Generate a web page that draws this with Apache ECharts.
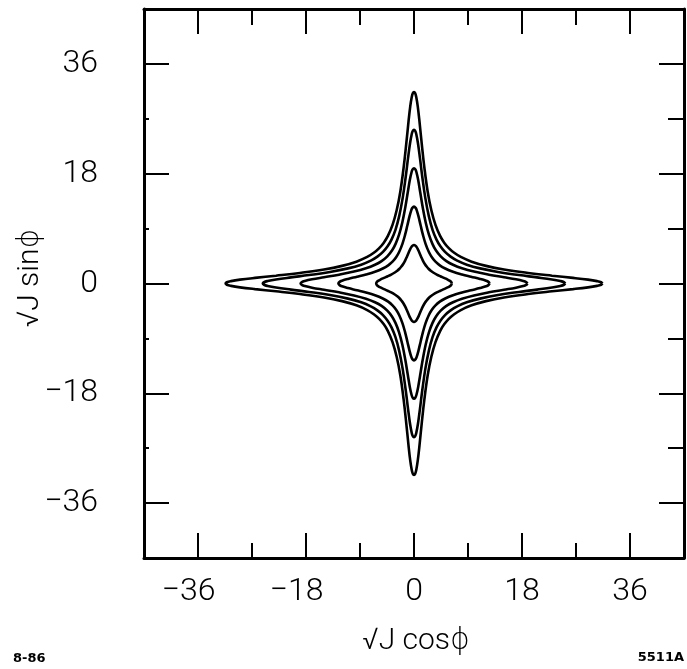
<!DOCTYPE html>
<html>
<head>
<meta charset="utf-8">
<script src="https://cdn.jsdelivr.net/npm/echarts@6/dist/echarts.min.js"></script>
<style>html,body{margin:0;padding:0;background:#fff;}#c{width:687px;height:669px;}</style>
</head>
<body>
<div id="c"></div>
<script>
// Tick values
const majorTicks = [-36, -18, 0, 18, 36];
const axisMin = -45, axisMax = 45, minorStep = 9;

// Contour curves (sqrt(J)cos(phi), sqrt(J)sin(phi))
const curve1 = [[6.3,0],[6.2,0.25],[6,0.42],[5.6,0.65],[5,0.92],[4.4,1.18],[3.8,1.46],[3.2,1.8],[2.8,2.09],[2.42,2.42],[2.09,2.8],[1.8,3.2],[1.46,3.8],[1.18,4.4],[0.92,5],[0.65,5.6],[0.42,6],[0.25,6.2],[0,6.3],
[-0.25,6.2],[-0.42,6],[-0.65,5.6],[-0.92,5],[-1.18,4.4],[-1.46,3.8],[-1.8,3.2],[-2.09,2.8],[-2.42,2.42],[-2.8,2.09],[-3.2,1.8],[-3.8,1.46],[-4.4,1.18],[-5,0.92],[-5.6,0.65],[-6,0.42],[-6.2,0.25],[-6.3,0],
[-6.2,-0.25],[-6,-0.42],[-5.6,-0.65],[-5,-0.92],[-4.4,-1.18],[-3.8,-1.46],[-3.2,-1.8],[-2.8,-2.09],[-2.42,-2.42],[-2.09,-2.8],[-1.8,-3.2],[-1.46,-3.8],[-1.18,-4.4],[-0.92,-5],[-0.65,-5.6],[-0.42,-6],[-0.25,-6.2],[0,-6.3],
[0.25,-6.2],[0.42,-6],[0.65,-5.6],[0.92,-5],[1.18,-4.4],[1.46,-3.8],[1.8,-3.2],[2.09,-2.8],[2.42,-2.42],[2.8,-2.09],[3.2,-1.8],[3.8,-1.46],[4.4,-1.18],[5,-0.92],[5.6,-0.65],[6,-0.42],[6.2,-0.25],[6.3,0]];

const curve2 = [[12.6,0],[12.4,0.27],[12,0.46],[11,0.75],[9.5,1.11],[8,1.48],[6.5,1.93],[5.2,2.46],[4.3,2.98],[3.58,3.58],[2.98,4.3],[2.46,5.2],[1.93,6.5],[1.48,8],[1.11,9.5],[0.75,11],[0.46,12],[0.27,12.4],[0,12.6],
[-0.27,12.4],[-0.46,12],[-0.75,11],[-1.11,9.5],[-1.48,8],[-1.93,6.5],[-2.46,5.2],[-2.98,4.3],[-3.58,3.58],[-4.3,2.98],[-5.2,2.46],[-6.5,1.93],[-8,1.48],[-9.5,1.11],[-11,0.75],[-12,0.46],[-12.4,0.27],[-12.6,0],
[-12.4,-0.27],[-12,-0.46],[-11,-0.75],[-9.5,-1.11],[-8,-1.48],[-6.5,-1.93],[-5.2,-2.46],[-4.3,-2.98],[-3.58,-3.58],[-2.98,-4.3],[-2.46,-5.2],[-1.93,-6.5],[-1.48,-8],[-1.11,-9.5],[-0.75,-11],[-0.46,-12],[-0.27,-12.4],[0,-12.6],
[0.27,-12.4],[0.46,-12],[0.75,-11],[1.11,-9.5],[1.48,-8],[1.93,-6.5],[2.46,-5.2],[2.98,-4.3],[3.58,-3.58],[4.3,-2.98],[5.2,-2.46],[6.5,-1.93],[8,-1.48],[9.5,-1.11],[11,-0.75],[12,-0.46],[12.4,-0.27],[12.6,0]];

const curve3 = [[18.9,0],[18.7,0.23],[18.2,0.42],[17,0.69],[15,1.03],[12.5,1.45],[10,1.95],[8,2.49],[6.5,3.07],[5.4,3.67],[4.45,4.45],[3.67,5.4],[3.07,6.5],[2.49,8],[1.95,10],[1.45,12.5],[1.03,15],[0.69,17],[0.42,18.2],[0.23,18.7],[0,18.9],
[-0.23,18.7],[-0.42,18.2],[-0.69,17],[-1.03,15],[-1.45,12.5],[-1.95,10],[-2.49,8],[-3.07,6.5],[-3.67,5.4],[-4.45,4.45],[-5.4,3.67],[-6.5,3.07],[-8,2.49],[-10,1.95],[-12.5,1.45],[-15,1.03],[-17,0.69],[-18.2,0.42],[-18.7,0.23],[-18.9,0],
[-18.7,-0.23],[-18.2,-0.42],[-17,-0.69],[-15,-1.03],[-12.5,-1.45],[-10,-1.95],[-8,-2.49],[-6.5,-3.07],[-5.4,-3.67],[-4.45,-4.45],[-3.67,-5.4],[-3.07,-6.5],[-2.49,-8],[-1.95,-10],[-1.45,-12.5],[-1.03,-15],[-0.69,-17],[-0.42,-18.2],[-0.23,-18.7],[0,-18.9],
[0.23,-18.7],[0.42,-18.2],[0.69,-17],[1.03,-15],[1.45,-12.5],[1.95,-10],[2.49,-8],[3.07,-6.5],[3.67,-5.4],[4.45,-4.45],[5.4,-3.67],[6.5,-3.07],[8,-2.49],[10,-1.95],[12.5,-1.45],[15,-1.03],[17,-0.69],[18.2,-0.42],[18.7,-0.23],[18.9,0]];

const curve4 = [[25.2,0],[25,0.21],[24.4,0.4],[23,0.66],[20.5,1],[17.5,1.38],[14,1.89],[11,2.48],[8.8,3.09],[7.2,3.75],[6.1,4.4],[5.17,5.17],[4.4,6.1],[3.75,7.2],[3.09,8.8],[2.48,11],[1.89,14],[1.38,17.5],[1,20.5],[0.66,23],[0.4,24.4],[0.21,25],[0,25.2],
[-0.21,25],[-0.4,24.4],[-0.66,23],[-1,20.5],[-1.38,17.5],[-1.89,14],[-2.48,11],[-3.09,8.8],[-3.75,7.2],[-4.4,6.1],[-5.17,5.17],[-6.1,4.4],[-7.2,3.75],[-8.8,3.09],[-11,2.48],[-14,1.89],[-17.5,1.38],[-20.5,1],[-23,0.66],[-24.4,0.4],[-25,0.21],[-25.2,0],
[-25,-0.21],[-24.4,-0.4],[-23,-0.66],[-20.5,-1],[-17.5,-1.38],[-14,-1.89],[-11,-2.48],[-8.8,-3.09],[-7.2,-3.75],[-6.1,-4.4],[-5.17,-5.17],[-4.4,-6.1],[-3.75,-7.2],[-3.09,-8.8],[-2.48,-11],[-1.89,-14],[-1.38,-17.5],[-1,-20.5],[-0.66,-23],[-0.4,-24.4],[-0.21,-25],[0,-25.2],
[0.21,-25],[0.4,-24.4],[0.66,-23],[1,-20.5],[1.38,-17.5],[1.89,-14],[2.48,-11],[3.09,-8.8],[3.75,-7.2],[4.4,-6.1],[5.17,-5.17],[6.1,-4.4],[7.2,-3.75],[8.8,-3.09],[11,-2.48],[14,-1.89],[17.5,-1.38],[20.5,-1],[23,-0.66],[24.4,-0.4],[25,-0.21],[25.2,0]];

const curve5 = [[31.4,0],[31.2,0.2],[30.5,0.39],[29,0.63],[26.5,0.92],[23,1.28],[19,1.73],[15,2.29],[12,2.89],[9.6,3.58],[7.8,4.35],[6.7,5.03],[5.8,5.8],[5.03,6.7],[4.35,7.8],[3.58,9.6],[2.89,12],[2.29,15],[1.73,19],[1.28,23],[0.92,26.5],[0.63,29],[0.39,30.5],[0.2,31.2],[0,31.4],
[-0.2,31.2],[-0.39,30.5],[-0.63,29],[-0.92,26.5],[-1.28,23],[-1.73,19],[-2.29,15],[-2.89,12],[-3.58,9.6],[-4.35,7.8],[-5.03,6.7],[-5.8,5.8],[-6.7,5.03],[-7.8,4.35],[-9.6,3.58],[-12,2.89],[-15,2.29],[-19,1.73],[-23,1.28],[-26.5,0.92],[-29,0.63],[-30.5,0.39],[-31.2,0.2],[-31.4,0],
[-31.2,-0.2],[-30.5,-0.39],[-29,-0.63],[-26.5,-0.92],[-23,-1.28],[-19,-1.73],[-15,-2.29],[-12,-2.89],[-9.6,-3.58],[-7.8,-4.35],[-6.7,-5.03],[-5.8,-5.8],[-5.03,-6.7],[-4.35,-7.8],[-3.58,-9.6],[-2.89,-12],[-2.29,-15],[-1.73,-19],[-1.28,-23],[-0.92,-26.5],[-0.63,-29],[-0.39,-30.5],[-0.2,-31.2],[0,-31.4],
[0.2,-31.2],[0.39,-30.5],[0.63,-29],[0.92,-26.5],[1.28,-23],[1.73,-19],[2.29,-15],[2.89,-12],[3.58,-9.6],[4.35,-7.8],[5.03,-6.7],[5.8,-5.8],[6.7,-5.03],[7.8,-4.35],[9.6,-3.58],[12,-2.89],[15,-2.29],[19,-1.73],[23,-1.28],[26.5,-0.92],[29,-0.63],[30.5,-0.39],[31.2,-0.2],[31.4,0]];

const curves = [curve1, curve2, curve3, curve4, curve5];

const FONT = 'Roboto, "DejaVu Sans", sans-serif';
const labelStyle = { color: '#000', fontSize: 32, fontWeight: 300, fontFamily: FONT };

function fmtNum(v) { return (v < 0 ? '\u2212' : '') + Math.abs(v); }
function isMajor(v) { return majorTicks.indexOf(v) >= 0; }

function makeAxis(pos, kind, len, showLine, labels) {
  const isX = (pos === 'bottom' || pos === 'top');
  const ax = {
    type: 'value', position: pos, min: axisMin, max: axisMax, interval: minorStep,
    gridIndex: 0,
    axisLine: { show: showLine, onZero: false, lineStyle: { color: '#000', width: 3 } },
    axisTick: { show: true, inside: true, length: len, lineStyle: { color: '#000', width: 2 } },
    splitLine: { show: false },
    axisLabel: { show: false }
  };
  if (kind === 'major') ax.axisTick.customValues = majorTicks;
  if (labels) {
    if (isX) {
      ax.axisLabel = Object.assign({}, labelStyle, {
        show: true, margin: 18,
        formatter: function (v) { return isMajor(v) ? (v < 0 ? '{n|' + fmtNum(v) + '}' : fmtNum(v)) : ''; },
        rich: { n: Object.assign({}, labelStyle, { padding: [0, 19, 0, 0] }) }
      });
    } else {
      ax.axisLabel = Object.assign({}, labelStyle, {
        show: true, margin: 46,
        formatter: function (v) { return isMajor(v) ? fmtNum(v) : ''; }
      });
    }
  }
  return ax;
}

const chart = echarts.init(document.getElementById('c'), null, { renderer: 'canvas' });
chart.setOption({
  animation: false,
  backgroundColor: '#fff',
  grid: { left: 144, top: 9, width: 550, height: 549, containLabel: false },
  xAxis: [
    makeAxis('bottom', 'minor', 15, true, true),
    makeAxis('bottom', 'major', 25, false, false),
    makeAxis('top', 'minor', 16, true, false),
    makeAxis('top', 'major', 25, false, false)
  ],
  yAxis: [
    makeAxis('left', 'minor', 5, true, true),
    makeAxis('left', 'major', 25, false, false),
    makeAxis('right', 'minor', 16, true, false),
    makeAxis('right', 'major', 25, false, false)
  ],
  series: curves.map(function (c, i) {
    return {
      type: 'line', name: 'contour' + (i + 1), data: c,
      xAxisIndex: 0, yAxisIndex: 0,
      showSymbol: false, smooth: 0.4, clip: true,
      lineStyle: { color: '#000', width: 2.6 }
    };
  }),
  graphic: [
    { type: 'text', x: 30, y: 278, rotation: Math.PI / 2,
      style: { text: '\u221AJ sin\u03D5', fill: '#000', fontSize: 30, fontWeight: 300, fontFamily: FONT, textAlign: 'center', textVerticalAlign: 'middle' } },
    { type: 'text', x: 416, y: 641,
      style: { text: '\u221AJ cos\u03D5', fill: '#000', fontSize: 30, fontWeight: 300, fontFamily: FONT, textAlign: 'center', textVerticalAlign: 'middle' } },
    { type: 'text', x: 13, y: 659,
      style: { text: '8-86', fill: '#000', fontSize: 13, fontWeight: 'bold', fontFamily: '"DejaVu Sans", sans-serif', textAlign: 'left', textVerticalAlign: 'middle' } },
    { type: 'text', x: 684, y: 658,
      style: { text: '5511A', fill: '#000', fontSize: 13, fontWeight: 'bold', fontFamily: '"DejaVu Sans", sans-serif', textAlign: 'right', textVerticalAlign: 'middle' } }
  ]
});
</script>
</body>
</html>
